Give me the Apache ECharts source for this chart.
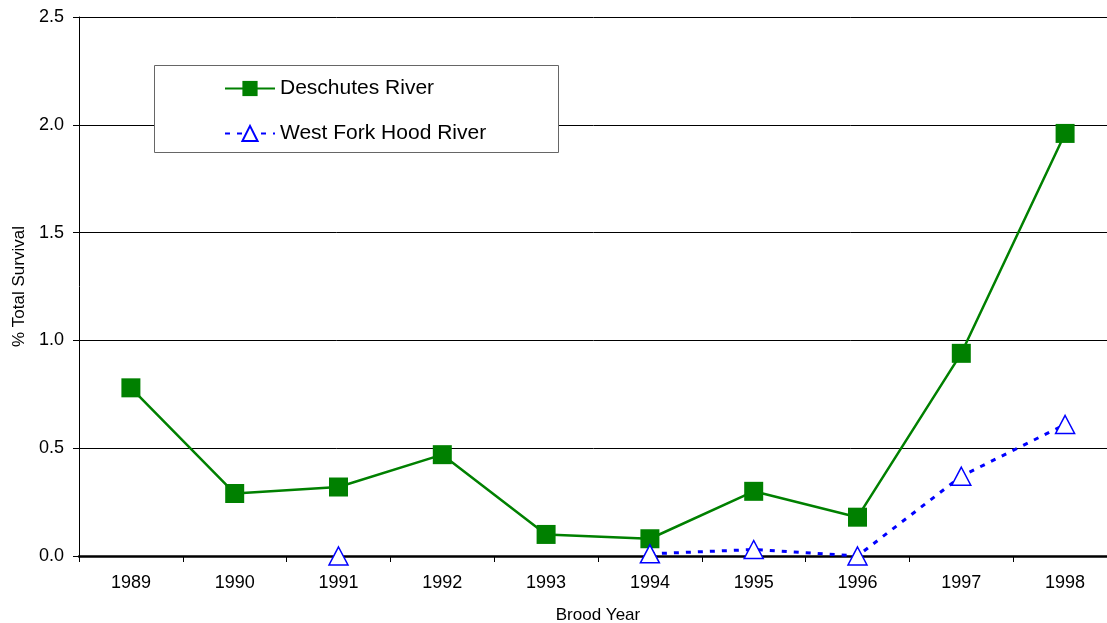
<!DOCTYPE html>
<html>
<head>
<meta charset="utf-8">
<script src="https://cdn.jsdelivr.net/npm/echarts@6/dist/echarts.min.js"></script>
<style>
  html, body { margin: 0; padding: 0; background: #fff; }
  #chart { width: 1107px; height: 623px; }
</style>
</head>
<body>
<div id="chart"></div>
<script>
// brood years on the x axis
const years = ['1989', '1990', '1991', '1992', '1993', '1994', '1995', '1996', '1997', '1998']
// % total survival
const deschutes = [0.78, 0.29, 0.32, 0.47, 0.10, 0.08, 0.30, 0.18, 0.94, 1.96]
const westFork = [null, null, 0.0, null, null, 0.01, 0.03, 0.0, 0.37, 0.61]
const yTicks = { min: 0, max: 2.5, step: 0.5 }

const chart = echarts.init(document.getElementById('chart'))
const font = 'Liberation Sans, Arial, sans-serif'

chart.setOption({
  animation: false,
  backgroundColor: '#fff',
  grid: { left: 79, right: -10, top: 17, bottom: 67, outerBoundsMode: 'none', containLabel: false },
  // legend box drawn behind the legend
  graphic: [{
    type: 'rect',
    left: 154, top: 65, z: 5,
    shape: { width: 404, height: 87 },
    style: { fill: '#fff', stroke: '#666', lineWidth: 1 }
  }],
  legend: {
    orient: 'vertical',
    left: 219, top: 73, z: 10,
    itemWidth: 50, itemHeight: 19, itemGap: 24,
    textStyle: { fontFamily: font, fontSize: 21, color: '#000' },
    data: ['Deschutes River', 'West Fork Hood River']
  },
  xAxis: {
    type: 'category',
    data: years,
    boundaryGap: true,
    name: 'Brood Year',
    nameLocation: 'middle',
    nameGap: 51,
    nameTextStyle: { fontFamily: font, fontSize: 17, color: '#000' },
    axisLine: { lineStyle: { color: '#000', width: 2.5 } },
    axisTick: { show: true, interval: 0, length: 6, lineStyle: { color: '#000', width: 1 } },
    axisLabel: { fontFamily: font, fontSize: 18, color: '#000', margin: 18 }
  },
  yAxis: {
    type: 'value',
    min: yTicks.min, max: yTicks.max, interval: yTicks.step,
    name: '% Total Survival',
    nameLocation: 'middle',
    nameGap: 51,
    nameTextStyle: { fontFamily: font, fontSize: 17, color: '#000' },
    axisLine: { show: true, lineStyle: { color: '#000', width: 1 } },
    axisTick: { show: true, length: 6, lineStyle: { color: '#000' } },
    axisLabel: {
      fontFamily: font, fontSize: 18, color: '#000', margin: 15,
      formatter: v => v.toFixed(1)
    },
    splitLine: { lineStyle: { color: '#000', width: 1 } }
  },
  series: [
    {
      name: 'Deschutes River',
      type: 'line',
      data: deschutes,
      symbol: 'rect',
      symbolSize: 19,
      itemStyle: { color: '#008000' },
      lineStyle: { color: '#008000', width: 2.5 },
      z: 3
    },
    {
      name: 'West Fork Hood River',
      type: 'line',
      data: westFork,
      connectNulls: false,
      symbol: 'triangle',
      symbolSize: [19, 18],
      itemStyle: { color: '#fff', borderColor: '#0000ff', borderWidth: 1.5 },
      lineStyle: { color: '#0000ff', width: 3, type: [5, 7] },
      z: 4
    }
  ]
})
</script>
</body>
</html>
